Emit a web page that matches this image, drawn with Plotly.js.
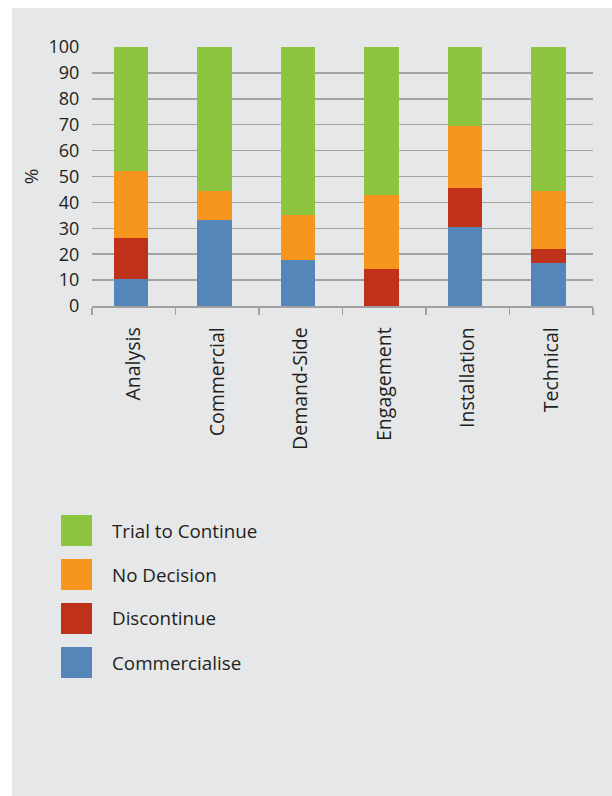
<!DOCTYPE html>
<html>
<head>
<meta charset="utf-8">
<script src="https://cdn.plot.ly/plotly-3.0.1.min.js"></script>
<style>
  html, body { margin: 0; padding: 0; background: #ffffff; width: 612px; height: 796px; overflow: hidden; }
  #chart { position: absolute; left: 12px; top: 8px; width: 600px; height: 788px; }
</style>
</head>
<body>
<div id="chart"></div>
<script>
const categories = ["Analysis", "Commercial", "Demand-Side", "Engagement", "Installation", "Technical"];
const commercialise = [10.3, 33.3, 17.6, 0, 30.4, 16.7];
const discontinue   = [15.8, 0, 0, 14.3, 15.2, 5.5];
const noDecision    = [26.0, 11.1, 17.7, 28.6, 23.9, 22.2];
const trialToContinue = [47.9, 55.6, 64.7, 57.1, 30.5, 55.6];
const seriesNames = ["Commercialise", "Discontinue", "No Decision", "Trial to Continue"];
const seriesColors = ["#5586b9", "#c0311c", "#f7961f", "#8dc540"];
const seriesValues = [commercialise, discontinue, noDecision, trialToContinue];
const yTicks = [0, 10, 20, 30, 40, 50, 60, 70, 80, 90, 100];

const fontFam = "'Open Sans', 'Noto Sans', sans-serif";
const txtColor = "#231f20";

const traces = seriesNames.map((name, i) => ({
  type: "bar",
  name: name,
  x: categories,
  y: seriesValues[i],
  width: 0.41,
  offset: -0.238,
  marker: { color: seriesColors[i], line: { width: 0 } },
  hoverinfo: "x+y+name"
}));

// legend (drawn manually: large squares), order top to bottom
const legendOrder = [3, 2, 1, 0];
const W = 501, H = 259; // plot area size in px
const px = X => (X - 92) / W;      // page x -> paper
const py = Y => (306 - Y) / H;     // page y -> paper
const shapes = [];
const annotations = [];
legendOrder.forEach((si, k) => {
  const top = 515 + k * 44;
  shapes.push({
    type: "rect", xref: "paper", yref: "paper",
    x0: px(61), x1: px(92), y0: py(top + 31), y1: py(top),
    fillcolor: seriesColors[si], line: { width: 0 }
  });
  annotations.push({
    xref: "paper", yref: "paper", x: px(110), y: py(top + 15.5),
    xanchor: "left", yanchor: "middle", showarrow: false,
    text: seriesNames[si], font: { family: fontFam, size: 18.8, color: txtColor }
  });
});

const layout = {
  width: 600, height: 788,
  paper_bgcolor: "#e6e7e8", plot_bgcolor: "#e6e7e8",
  margin: { l: 80, r: 19, t: 39, b: 490 },
  barmode: "stack",
  showlegend: false,
  font: { family: fontFam, size: 18, color: txtColor },
  xaxis: {
    type: "category",
    tickangle: -90,
    tickson: "boundaries",
    ticks: "outside", ticklen: 7, tickwidth: 1.5, tickcolor: "#a0a0a0",
    ticklabelstandoff: 12,
    showline: true, linecolor: "#a0a0a0", linewidth: 1.5,
    showgrid: false, zeroline: false,
    tickfont: { family: fontFam, size: 19.5, color: txtColor },
    fixedrange: true
  },
  yaxis: {
    range: [0, 100],
    tickvals: yTicks,
    ticktext: yTicks.map(String),
    ticks: "outside", ticklen: 8, tickcolor: "rgba(0,0,0,0)",
    showgrid: true, gridcolor: "#a3a3a3", gridwidth: 1.5,
    zeroline: false, showline: false,
    tickfont: { family: fontFam, size: 18, color: txtColor },
    title: { text: "%", font: { family: fontFam, size: 19, color: txtColor }, standoff: 4 },
    fixedrange: true
  },
  shapes: shapes,
  annotations: annotations
};

Plotly.newPlot("chart", traces, layout, { displayModeBar: false, staticPlot: true });
</script>
</body>
</html>
